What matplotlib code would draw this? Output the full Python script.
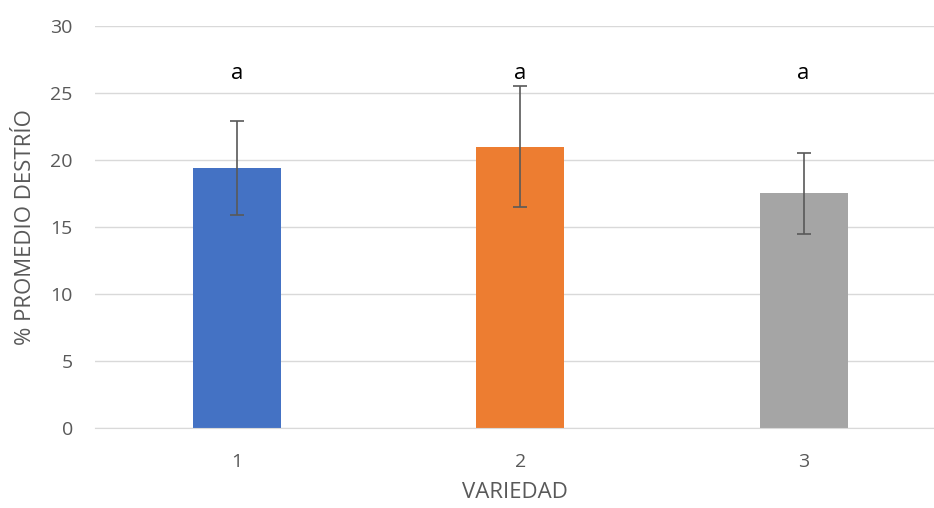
import matplotlib.pyplot as plt

# values
varieties = ["1", "2", "3"]
means = [19.4, 21.0, 17.5]
errors = [3.5, 4.5, 3.05]
letters = ["a", "a", "a"]
colors = ["#4472C4", "#ED7D31", "#A5A5A5"]

plt.rcParams["font.family"] = ["Open Sans", "DejaVu Sans"]


def main():
    fig = plt.figure(figsize=(9.34, 5.08), dpi=100)
    ax = fig.add_axes([95 / 934, 80 / 508, 1 - 95 / 934, 402 / 508])

    x = range(len(varieties))
    ax.bar(x, means, width=0.31, color=colors, zorder=2)
    ax.errorbar(x, means, yerr=errors, fmt="none", ecolor="#595959",
                elinewidth=1.2, capsize=5, capthick=1.2, zorder=3)

    # significance letters above each bar
    for xi, lab in zip(x, letters):
        ax.text(xi, 26.45, lab, ha="center", va="center", fontsize=16, color="black")

    ax.set_ylim(0, 30)
    ax.set_xlim(-0.5, 2.46)
    ax.set_yticks(range(0, 31, 5))
    ax.set_xticks(list(x))
    ax.set_xticklabels(varieties)
    ax.grid(axis="y", color="#D9D9D9", linewidth=1, zorder=0)
    for side in ["top", "right", "left"]:
        ax.spines[side].set_visible(False)
    ax.spines["bottom"].set_color("#D9D9D9")
    ax.tick_params(axis="both", length=0, colors="#595959", labelsize=14)
    ax.tick_params(axis="y", pad=16)
    ax.tick_params(axis="x", pad=18)

    ax.set_xlabel("VARIEDAD", fontsize=16, color="#595959", labelpad=8)
    ax.set_ylabel("% PROMEDIO DESTRÍO", fontsize=16, color="#595959", labelpad=10)

    fig.savefig("out.png", dpi=100)


if __name__ == "__main__":
    main()
